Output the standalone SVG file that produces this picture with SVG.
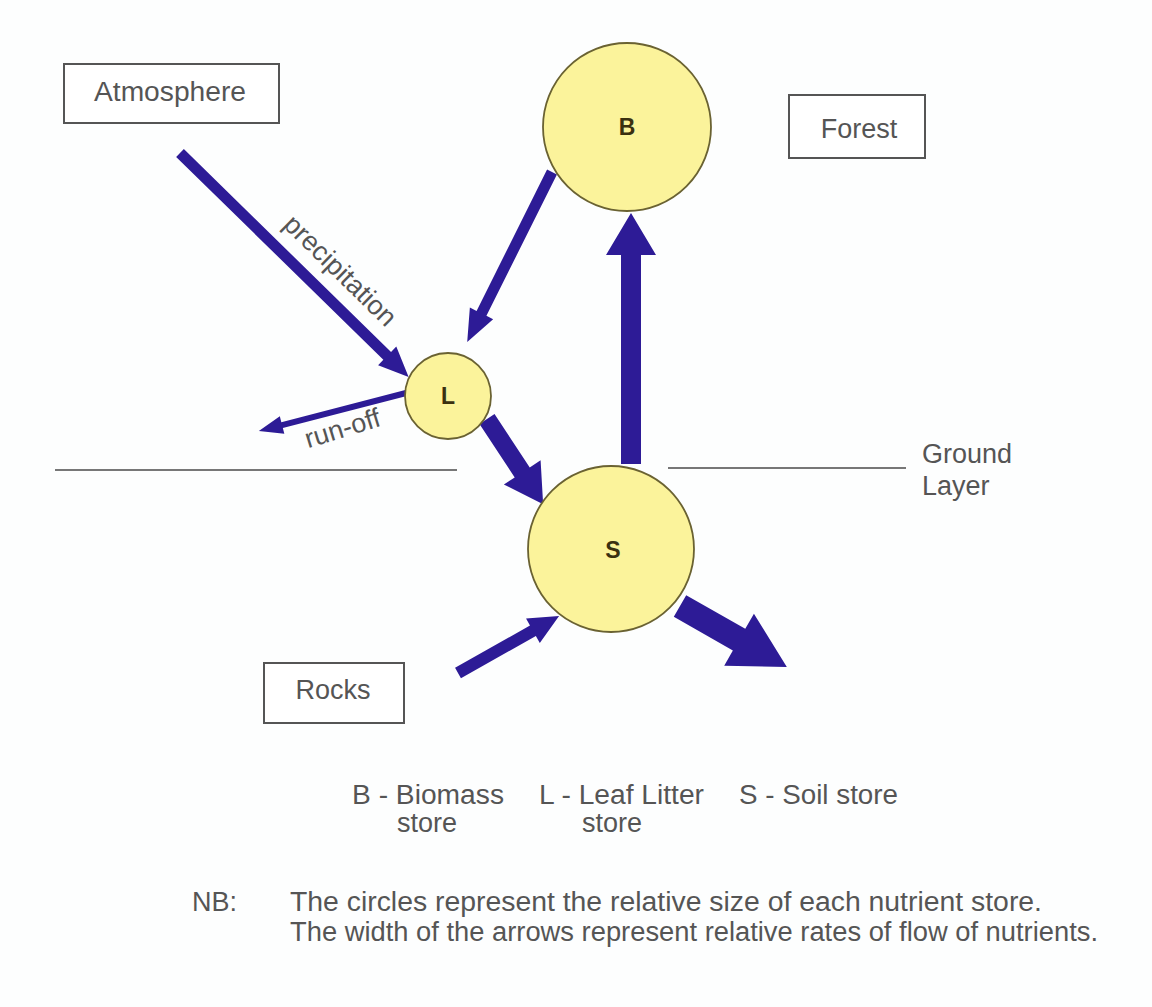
<svg xmlns="http://www.w3.org/2000/svg" width="1152" height="1007" viewBox="0 0 1152 1007">
<style>
.bg{fill:#fdfefe}
.box{fill:#ffffff;stroke:#555;stroke-width:2}
.t{font-family:"Liberation Sans",Arial,sans-serif;fill:#555;font-size:27px}
.store{fill:#fbf39b;stroke:#6a6232;stroke-width:1.8}
.lbl{font-family:"Liberation Sans",Arial,sans-serif;font-weight:bold;fill:#3a3010;font-size:23px;text-anchor:middle}
.arr{fill:#2d1b96}
.ground{stroke:#777;stroke-width:2}
</style>
<rect class="bg" x="0" y="0" width="1152" height="1007"/>
<g id="ground">
<line class="ground" x1="55" y1="470" x2="457" y2="470"/>
<line class="ground" x1="668" y1="468" x2="906" y2="468"/>
<text class="t" x="922" y="463">Ground</text>
<text class="t" x="922" y="495">Layer</text>
</g>
<g id="connectors">
<polygon class="arr" transform="translate(180,153) rotate(44.4)" points="0,-5.5 290,-5.5 290,-13 320,0 290,13 290,5.5 0,5.5"/>
<polygon class="arr" transform="translate(552,172) rotate(116.5)" points="0,-5.5 158,-5.5 158,-13 190,0 158,13 158,5.5 0,5.5"/>
<polygon class="arr" transform="translate(406,393) rotate(165.5)" points="0,-3 128,-3 128,-9 152,0 128,9 128,3 0,3"/>
<polygon class="arr" transform="translate(487,419) rotate(56.6)" points="0,-9 64,-9 64,-22 102,0 64,22 64,9 0,9"/>
<polygon class="arr" transform="translate(631,464) rotate(-90)" points="0,-10 209,-10 209,-25 251,0 209,25 209,10 0,10"/>
<polygon class="arr" transform="translate(458,673) rotate(-29.4)" points="0,-6 86,-6 86,-14 116,0 86,14 86,6 0,6"/>
<polygon class="arr" transform="translate(680,606) rotate(29.7)" points="0,-12.5 68,-12.5 68,-30 123,0 68,30 68,12.5 0,12.5"/>
<text class="t" font-size="24" transform="translate(334,277) rotate(44.4)" text-anchor="middle">precipitation</text>
<text class="t" font-size="24" transform="translate(345,437) rotate(-17)" text-anchor="middle">run-off</text>
</g>
<g id="atmosphere">
<rect class="box" x="64" y="64" width="215" height="59"/>
<text class="t" x="170" y="101" text-anchor="middle" textLength="152" lengthAdjust="spacingAndGlyphs">Atmosphere</text>
</g>
<g id="forest">
<rect class="box" x="789" y="95" width="136" height="63"/>
<text class="t" x="859" y="138" text-anchor="middle">Forest</text>
</g>
<g id="rocks">
<rect class="box" x="264" y="663" width="140" height="60"/>
<text class="t" x="333" y="699" text-anchor="middle">Rocks</text>
</g>
<g id="B">
<circle class="store" cx="627" cy="127" r="84"/>
<text class="lbl" x="627" y="135">B</text>
</g>
<g id="L">
<circle class="store" cx="448" cy="396" r="43"/>
<text class="lbl" x="448" y="404">L</text>
</g>
<g id="S">
<circle class="store" cx="611" cy="549" r="83"/>
<text class="lbl" x="613" y="558">S</text>
</g>
<g id="legend">
<text class="t" x="352" y="804" textLength="152" lengthAdjust="spacingAndGlyphs">B - Biomass</text>
<text class="t" x="397" y="832">store</text>
<text class="t" x="539" y="804" textLength="165" lengthAdjust="spacingAndGlyphs">L - Leaf Litter</text>
<text class="t" x="582" y="832">store</text>
<text class="t" x="739" y="804" textLength="159" lengthAdjust="spacingAndGlyphs">S - Soil store</text>
<text class="t" x="192" y="911">NB:</text>
<text class="t" x="290" y="911" textLength="752" lengthAdjust="spacingAndGlyphs">The circles represent the relative size of each nutrient store.</text>
<text class="t" x="290" y="941" textLength="808" lengthAdjust="spacingAndGlyphs">The width of the arrows represent relative rates of flow of nutrients.</text>
</g>
</svg>
